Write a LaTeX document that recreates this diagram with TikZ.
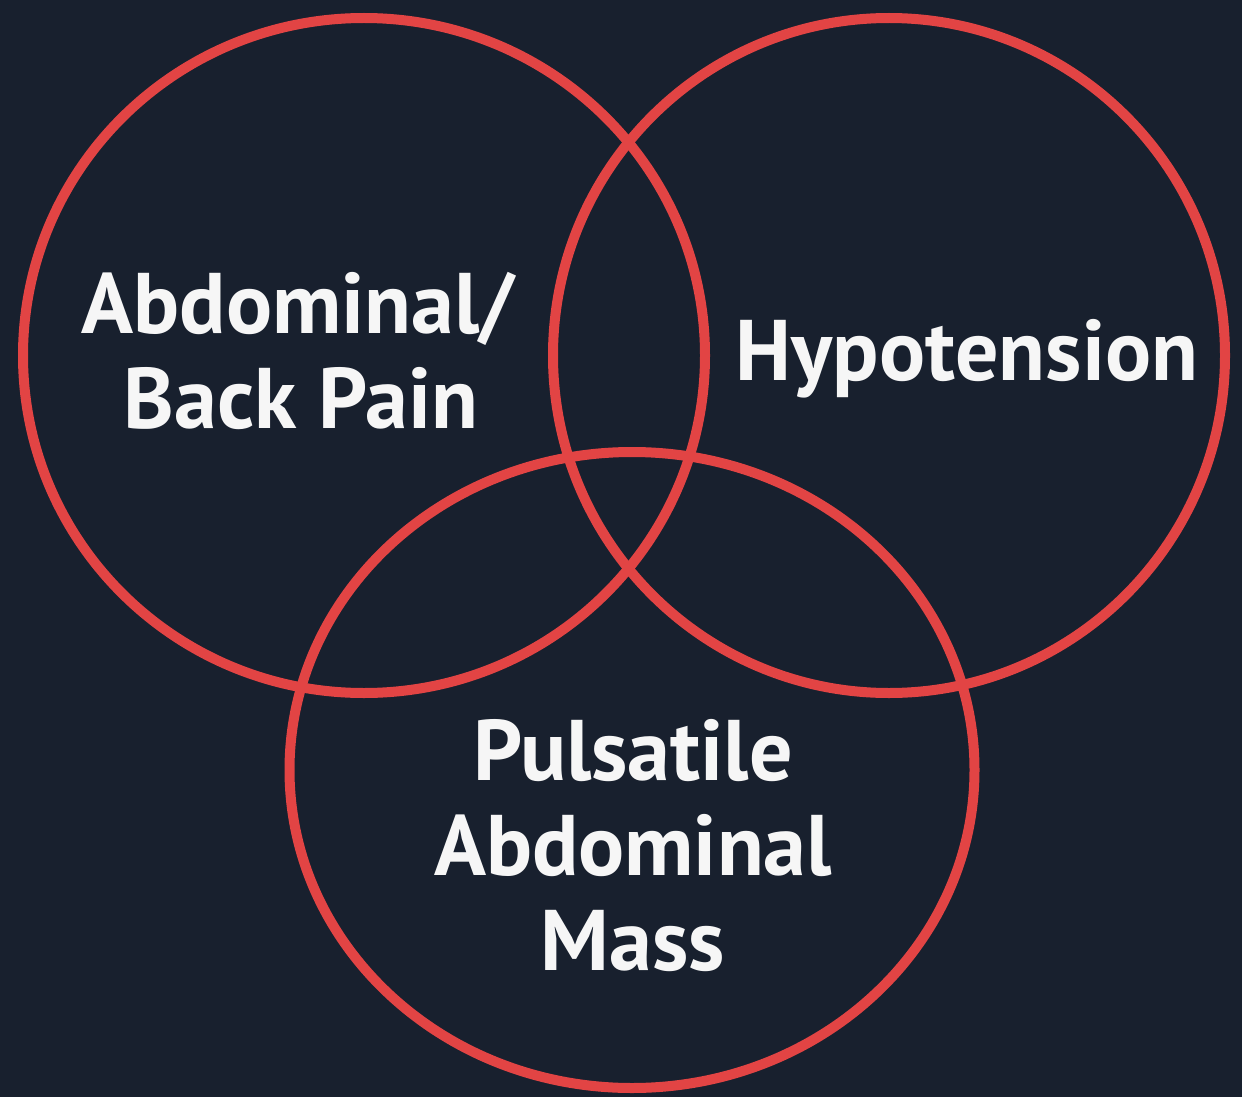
\documentclass[tikz,border=0pt]{standalone}
\usepackage{fontspec}
\setmainfont{PT Sans}
\usetikzlibrary{shapes.geometric}
\definecolor{bgnavy}{RGB}{24,32,46}
\definecolor{vennred}{RGB}{226,68,68}
\definecolor{txtwhite}{RGB}{246,246,246}
\newcommand{\hsq}{1.0}
\tikzset{
  vennring/.style={ellipse, draw=vennred, line width=5pt, inner sep=0pt, outer sep=0pt},
  vlabel/.style={anchor=base, inner sep=0pt, text=txtwhite, font=\fontsize{43}{47}\selectfont\bfseries}
}
\begin{document}
\begin{tikzpicture}[x=0.5pt,y=-0.5pt]
\fill[bgnavy] (0,0) rectangle (1242,1097);
\useasboundingbox (0,0) rectangle (1242,1097);
\node[vennring, minimum width=341pt, minimum height=337.5pt] (left) at (364,355.5) {};
\node[vennring, minimum width=336pt, minimum height=337.5pt] (right) at (889,355.5) {};
\node[vennring, minimum width=342.5pt, minimum height=318pt] (bottom) at (632,770) {};
\node[vlabel] (l1) at (298,333) {\scalebox{\hsq}[1]{Abdominal/}};
\node[vlabel] (l2) at (301,428) {\scalebox{\hsq}[1]{Back Pain}};
\node[vlabel] (r1) at (967,380) {\scalebox{\hsq}[1]{Hypotension}};
\node[vlabel] (b1) at (633,780) {\scalebox{\hsq}[1]{Pulsatile}};
\node[vlabel] (b2) at (633,875) {\scalebox{\hsq}[1]{Abdominal}};
\node[vlabel] (b3) at (633,970) {\scalebox{\hsq}[1]{Mass}};
\end{tikzpicture}
\end{document}
